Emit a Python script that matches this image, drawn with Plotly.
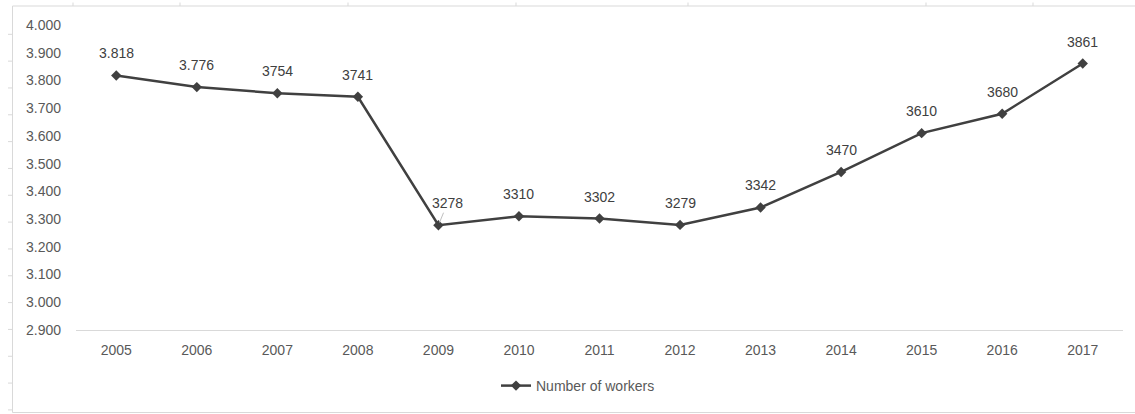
import plotly.graph_objects as go

years = ["2005", "2006", "2007", "2008", "2009", "2010", "2011", "2012", "2013", "2014", "2015", "2016", "2017"]
workers = [3818, 3776, 3754, 3741, 3278, 3310, 3302, 3279, 3342, 3470, 3610, 3680, 3861]
labels = ["3.818", "3.776", "3754", "3741", "3278", "3310", "3302", "3279", "3342", "3470", "3610", "3680", "3861"]
series_name = "Number of workers"

W, H = 1135, 414
L, R, T, B = 76, 12, 25, 84
PW, PH = W - L - R, H - T - B


def px_x(px):
    return (px - L) / PW


def px_y(py):
    return (H - B - py) / PH


FONT = "Liberation Sans"
DARK = "#404040"
GREY = "#595959"

fig = go.Figure()
fig.add_trace(go.Scatter(
    x=years, y=workers, mode="lines+markers", name=series_name,
    line=dict(color=DARK, width=2.5),
    marker=dict(symbol="diamond", size=8, color=DARK),
))

annotations = []
for i, (v, t) in enumerate(zip(workers, labels)):
    if i == 4:
        annotations.append(dict(x=i, y=v, xref="x", yref="y", text=t, showarrow=True, ax=9, ay=-22,
                                arrowhead=0, arrowwidth=1, arrowcolor="#bfbfbf", standoff=3,
                                font=dict(family=FONT, size=14, color=DARK)))
    else:
        annotations.append(dict(x=i, y=v, xref="x", yref="y", text=t, showarrow=False, yshift=22,
                                font=dict(family=FONT, size=14, color=DARK)))

shapes = []
border = "#d9d9d9"
shapes.append(dict(type="line", xref="paper", yref="paper", x0=px_x(12.5), x1=px_x(1140), y0=px_y(6), y1=px_y(6), line=dict(color=border, width=1)))
shapes.append(dict(type="line", xref="paper", yref="paper", x0=px_x(12.5), x1=px_x(1140), y0=px_y(412.5), y1=px_y(412.5), line=dict(color=border, width=1)))
shapes.append(dict(type="line", xref="paper", yref="paper", x0=px_x(12.5), x1=px_x(12.5), y0=px_y(6), y1=px_y(412.5), line=dict(color=border, width=1)))
for cx in [73, 180, 348, 516, 688, 926, 1033]:
    shapes.append(dict(type="line", xref="paper", yref="paper", x0=px_x(cx), x1=px_x(cx), y0=px_y(2.5), y1=px_y(6), line=dict(color=border, width=1)))
for k in range(15):
    ry = 34.3 + 26.83 * k
    shapes.append(dict(type="line", xref="paper", yref="paper", x0=px_x(8), x1=px_x(12.5), y0=px_y(ry), y1=px_y(ry), line=dict(color=border, width=1)))

fig.update_layout(
    width=W, height=H,
    margin=dict(l=L, r=R, t=T, b=B, autoexpand=False),
    paper_bgcolor="white", plot_bgcolor="white",
    separators=",.",
    font=dict(family=FONT, size=14, color=GREY),
    showlegend=True,
    legend=dict(orientation="h", x=px_x(578), xanchor="center", y=px_y(386), yanchor="middle",
                font=dict(family=FONT, size=14, color=GREY), bgcolor="rgba(0,0,0,0)"),
    annotations=annotations,
    shapes=shapes,
    xaxis=dict(type="category", range=[-0.5, len(years) - 0.5], autorange=False, showgrid=False,
               showline=True, linecolor="#d9d9d9", linewidth=1,
               ticks="", zeroline=False, ticklabelstandoff=7,
               tickfont=dict(family=FONT, size=14, color=GREY)),
    yaxis=dict(range=[2900, 4000], autorange=False, dtick=100, tick0=2900, tickformat=",d", showgrid=False,
               showline=False, zeroline=False, ticks="", ticklabelstandoff=14,
               tickfont=dict(family=FONT, size=14, color=GREY)),
)

fig.write_html("out.html", config={"displayModeBar": False},
               post_script="document.body.style.margin='0';")
